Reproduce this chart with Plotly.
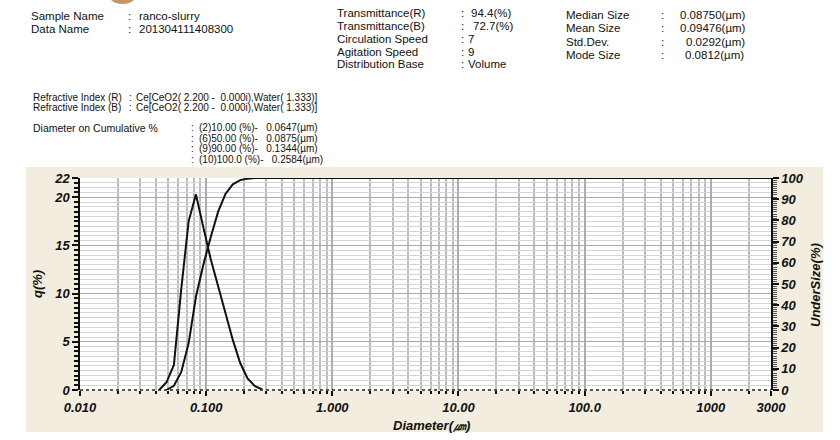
import plotly.graph_objects as go

# ---------------- data ----------------
diam_q = [0.0424, 0.0485, 0.0555, 0.0635, 0.0726, 0.0830, 0.0949, 0.1086,
          0.1243, 0.1422, 0.1626, 0.1861, 0.2129, 0.2436, 0.2786]
q_pct = [0.0, 0.8, 2.6, 10.5, 17.5, 20.3, 16.9, 13.6,
         10.8, 8.1, 5.2, 2.8, 1.2, 0.4, 0.05]

diam_cum = [0.0485, 0.0555, 0.0635, 0.0726, 0.0830, 0.0949, 0.1086, 0.1243,
            0.1422, 0.1626, 0.1861, 0.2129, 0.2436, 0.2786, 3000]
cum_pct = [0.0, 2.0, 8.5, 22.0, 44.0, 59.0, 72.0, 84.0,
           92.5, 97.0, 99.0, 99.7, 99.95, 100.0, 100.0]

x_tickvals = [0.01, 0.1, 1, 10, 100, 1000, 3000]
x_ticktext = ["0.010", "0.100", "1.000", "10.00", "100.0", "1000", "3000"]
x_minor = [m * 10.0 ** k for k in range(-2, 3) for m in range(2, 10)] + [2000]
yl_tickvals = [0, 5, 10, 15, 20, 22]
yr_tickvals = list(range(0, 101, 10))

sample_labels = ["Sample Name", "Data Name"]
sample_values = ["ranco-slurry", "201304111408300"]
meas_labels = ["Transmittance(R)", "Transmittance(B)", "Circulation Speed",
               "Agitation Speed", "Distribution Base"]
meas_values = ["94.4(%)", "72.7(%)", "7", "9", "Volume"]
stat_labels = ["Median Size", "Mean Size", "Std.Dev.", "Mode Size"]
stat_values = ["0.08750(µm)", "0.09476(µm)", "0.0292(µm)", "0.0812(µm)"]
refr_labels = ["Refractive Index (R)", "Refractive Index (B)"]
refr_values = ["Ce[CeO2( 2.200 -  0.000i),Water( 1.333)]",
               "Ce[CeO2( 2.200 -  0.000i),Water( 1.333)]"]
cum_labels = ["(2)10.00 (%)-", "(6)50.00 (%)-", "(9)90.00 (%)-", "(10)100.0 (%)-"]
cum_values = ["0.0647(µm)", "0.0875(µm)", "0.1344(µm)", "0.2584(µm)"]

# ---------------- layout geometry ----------------
W, H = 840, 440
L, R, T, B = 80, 771, 178, 390


def px(x):
    return (x - L) / (R - L)


def py(y):
    return (B - y) / (B - T)


FONT = "Liberation Sans, Arial, sans-serif"
annotations = []


def txt(x, y, s, size=12, anchor="left", bold=False, italic=False, angle=0):
    annotations.append(dict(
        x=px(x), y=py(y), xref="paper", yref="paper", text=s, showarrow=False,
        xanchor=anchor, yanchor="middle", textangle=angle, borderpad=0,
        font=dict(family=FONT, size=size, color="#111",
                  weight="bold" if bold else "normal",
                  style="italic" if italic else "normal")))


NB = "\u00a0"
HF = 11.5

# header block
for lab, val, y in zip(sample_labels, sample_values, [16, 29]):
    txt(30, y, lab, HF)
    txt(127, y, ":", HF)
    txt(138, y, val, HF)

meas_y = [12.5, 25.5, 38.5, 51.5, 64.5]
meas_vx = [470, 472, 467, 467, 467]
for lab, val, y, vx in zip(meas_labels, meas_values, meas_y, meas_vx):
    txt(336, y, lab, HF)
    txt(460, y, ":", HF)
    txt(vx, y, val, HF)

stat_y = [15, 28.3, 41.7, 55]
stat_vx = [679, 679, 685, 684]
for lab, val, y, vx in zip(stat_labels, stat_values, stat_y, stat_vx):
    txt(565, y, lab, HF)
    txt(660, y, ":", HF)
    txt(vx, y, val, HF)

for lab, val, y in zip(refr_labels, refr_values, [97.5, 108]):
    txt(32, y, lab, 10)
    txt(128, y, ":", 10)
    txt(135, y, val.replace(" ", NB), 10)

cum_y = [127.5, 138, 148.5, 159]
txt(32, cum_y[0], "Diameter on Cumulative %", 10.5)
for lab, val, y in zip(cum_labels, cum_values, cum_y):
    txt(190, y, ":", 10)
    txt(198, y, (lab + "   " + val).replace(" ", NB), 10)

# axis titles
txt(37, 284, "q(%)", 13, anchor="center", bold=True, italic=True, angle=-90)
txt(815, 285, "UnderSize(%)", 13, anchor="center", bold=True, italic=True, angle=-90)
txt(432, 425, "Diameter(㎛)", 13, anchor="center", bold=True, italic=True)

shapes = [
    # beige frame
    dict(type="rect", xref="paper", yref="paper", layer="below",
         x0=px(26), x1=px(823), y0=py(432), y1=py(167),
         fillcolor="#F2EDDF", line=dict(width=0)),
    # white plotting area
    dict(type="rect", xref="paper", yref="paper", layer="below",
         x0=0, x1=1, y0=0, y1=1, fillcolor="white", line=dict(width=0)),
    # dotted bottom axis line
    dict(type="line", xref="paper", yref="paper", layer="above",
         x0=0, x1=1, y0=0, y1=0, line=dict(color="#222", width=1.5, dash="dot")),
    # small decoration at the top
    dict(type="circle", xref="paper", yref="paper", layer="below",
         x0=px(110), x1=px(135), y0=py(4), y1=py(-10),
         fillcolor="#C89460", line=dict(width=0)),
]

tickfont = dict(family=FONT, size=13, color="#111", weight="bold", style="italic")

fig = go.Figure()
fig.add_trace(go.Scatter(x=diam_q, y=q_pct, mode="lines", yaxis="y",
                         line=dict(color="#111", width=2), cliponaxis=False,
                         showlegend=False, hoverinfo="skip"))
fig.add_trace(go.Scatter(x=diam_cum, y=cum_pct, mode="lines", yaxis="y2",
                         line=dict(color="#111", width=2), cliponaxis=False,
                         showlegend=False, hoverinfo="skip"))

fig.update_layout(
    width=W, height=H,
    margin=dict(l=L, r=W - R, t=T, b=H - B, autoexpand=False),
    paper_bgcolor="white", plot_bgcolor="white",
    showlegend=False,
    xaxis=dict(type="log", range=[-2, 3.4771], tickmode="array",
               tickvals=x_tickvals, ticktext=x_ticktext, tickfont=tickfont,
               ticks="outside", ticklen=5, tickwidth=1.5, tickcolor="#111",
               showgrid=True, gridcolor="#ADADAD", gridwidth=1.5,
               showline=False, zeroline=False,
               minor=dict(tickmode="array", tickvals=x_minor, ticks="outside",
                          ticklen=3, tickwidth=1.5, tickcolor="#111",
                          showgrid=True, gridcolor="#BDBDBD", gridwidth=1.5)),
    yaxis=dict(range=[0, 22], tickmode="array", tickvals=yl_tickvals,
               tickfont=tickfont, ticks="outside", ticklen=6, tickwidth=1.5,
               tickcolor="#111", showline=True, linecolor="#111", linewidth=1.5,
               showgrid=True, gridcolor="#A8A8A8", gridwidth=1, zeroline=False,
               minor=dict(tick0=0, dtick=0.5, ticks="outside", ticklen=4,
                          tickwidth=1.5, tickcolor="#111", showgrid=True,
                          gridcolor="#D4D4D4", gridwidth=1)),
    yaxis2=dict(range=[0, 100], overlaying="y", side="right", tickmode="array",
                tickvals=yr_tickvals, tickfont=tickfont, ticks="outside",
                ticklen=6, tickwidth=1.5, tickcolor="#111", showline=True,
                linecolor="#111", linewidth=1.5, showgrid=False, zeroline=False,
                minor=dict(tick0=0, dtick=1, ticks="outside", ticklen=4,
                           tickwidth=1, tickcolor="#555")),
    annotations=annotations,
    shapes=shapes,
)

fig.write_html("out.html")
